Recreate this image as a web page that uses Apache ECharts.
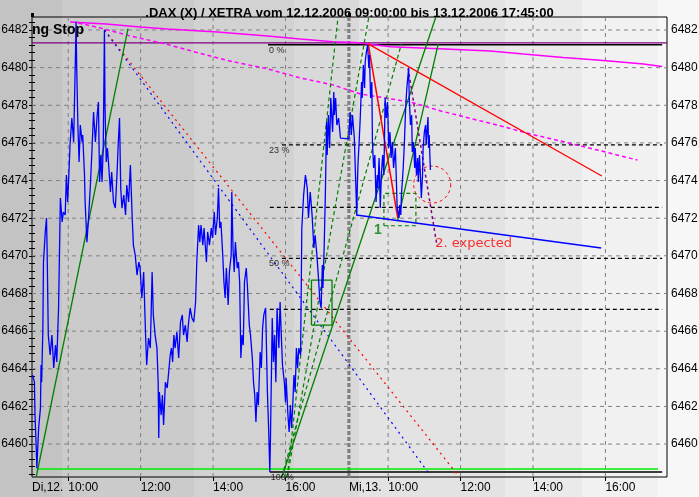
<!DOCTYPE html>
<html>
<head>
<meta charset="utf-8">
<script src="https://cdn.jsdelivr.net/npm/echarts@6/dist/echarts.min.js"></script>
<style>
  html, body { margin: 0; padding: 0; }
  #chart { width: 699px; height: 497px; }
</style>
</head>
<body>
<div id="chart"></div>
<script>
// Time axis counts trading minutes from Tue 12.12. 09:00; Wed 13.12. 09:00 sits at 530.
const timeTicks = [0, 60, 180, 300, 420, 525, 590, 710, 830, 950];
const timeTickLabels = ['Di,12.', '10:00', '12:00', '14:00', '16:00', 'Mi,13.', '10:00', '12:00', '14:00', '16:00'];
const hourGrid = [60, 180, 300, 420, 590, 710, 830, 950];
const dayBreaks = [0, 525];
const priceTicks = [6460, 6462, 6464, 6466, 6468, 6470, 6472, 6474, 6476, 6478, 6480, 6482];

// DAX price path [minute, index points]
const price = [
  [1,6463.67],[4,6463.29],[5,6461.54],[7,6459.79],[8,6458.72],[11,6460.85],[14,6461.91],[15,6464.20],[16,6463.29],[18,6466.16],
  [19,6469.67],[22,6471.27],[24,6472.01],[25,6470.42],[27,6465.79],[30,6464.73],[33,6465.79],[36,6464.04],[39,6465.26],[41,6464.36],
  [44,6467.23],[47,6473.07],[50,6471.80],[52,6472.33],[55,6472.17],[57,6474.29],[59,6472.86],[61,6474.29],[63,6475.89],[66,6477.32],
  [69,6476.05],[72,6480.67],[73,6482.44],[74,6480.14],[76,6476.95],[78,6474.99],[80,6476.95],[83,6476.05],[84,6476.42],[87,6474.29],
  [88,6472.86],[91,6470.73],[94,6472.17],[97,6473.92],[99,6475.36],[102,6477.64],[105,6476.05],[108,6477.48],[110,6478.17],[112,6473.92],
  [114,6475.36],[116,6473.92],[118,6475.73],[120,6482.00],[121,6477.86],[123,6474.99],[125,6475.73],[127,6474.83],[130,6473.39],[132,6474.45],
  [135,6472.86],[138,6472.54],[141,6474.45],[143,6476.05],[145,6477.32],[147,6473.60],[149,6472.54],[152,6473.23],[155,6472.17],[157,6473.76],
  [160,6472.86],[163,6474.83],[166,6472.01],[168,6470.57],[171,6470.04],[174,6468.98],[177,6469.67],[179,6469.35],[182,6467.76],[185,6469.14],
  [188,6465.95],[190,6464.20],[193,6465.63],[196,6465.10],[199,6469.14],[201,6466.86],[204,6465.79],[207,6465.10],[209,6463.29],[210,6460.32],
  [211,6462.76],[214,6461.54],[216,6462.60],[218,6461.01],[221,6463.29],[224,6462.98],[226,6463.67],[229,6464.73],[231,6465.10],[233,6464.36],
  [235,6465.79],[237,6465.10],[240,6465.95],[243,6464.57],[246,6466.48],[249,6466.86],[251,6465.79],[254,6466.32],[257,6465.42],[259,6466.32],
  [262,6467.23],[265,6466.70],[268,6466.48],[271,6467.55],[273,6469.67],[276,6471.64],[278,6470.73],[280,6471.64],[283,6470.57],[285,6471.48],
  [287,6470.57],[289,6469.67],[291,6471.27],[294,6470.57],[297,6471.48],[299,6470.95],[302,6472.33],[304,6471.11],[307,6472.01],[309,6473.60],
  [311,6471.48],[313,6471.80],[316,6470.04],[318,6468.61],[320,6467.76],[322,6469.35],[325,6467.39],[327,6469.14],[330,6470.04],[331,6473.39],
  [333,6470.42],[335,6469.14],[337,6470.73],[340,6469.35],[342,6469.67],[344,6468.61],[346,6464.57],[348,6465.79],[350,6465.26],[352,6468.61],
  [355,6469.35],[357,6468.29],[360,6466.32],[362,6465.79],[365,6464.57],[367,6463.29],[369,6462.60],[371,6461.17],[373,6462.76],[375,6462.07],
  [378,6464.89],[380,6464.04],[382,6466.16],[384,6466.86],[387,6467.23],[388,6465.79],[390,6462.76],[392,6460.85],[394,6458.51],[395,6460.21],
  [398,6466.70],[400,6464.36],[402,6465.79],[404,6463.29],[406,6467.23],[409,6465.10],[411,6467.55],[413,6465.79],[415,6464.20],[418,6463.29],
  [420,6462.23],[421,6463.51],[424,6461.54],[426,6460.64],[428,6462.07],[430,6460.85],[432,6462.07],[434,6463.67],[436,6462.76],[438,6465.10],
  [440,6464.04],[442,6465.10],[445,6464.73],[447,6471.48],[450,6473.23],[453,6474.29],[456,6473.60],[458,6472.01],[461,6473.39],[464,6472.17],
  [467,6470.42],[469,6471.11],[472,6470.04],[475,6468.61],[477,6467.55],[479,6467.23],[481,6469.51],[482,6468.29],[484,6470.42],[486,6473.23],
  [488,6477.11],[489,6475.36],[491,6477.48],[493,6475.73],[495,6478.39],[498,6476.58],[500,6478.71],[501,6477.48],[503,6478.39],[505,6476.95],
  [508,6477.32],[511,6476.26],[525,6476.21],[527,6477.64],[529,6476.42],[531,6477.48],[534,6476.26],[538,6472.17],[539,6473.76],[540,6474.83],
  [542,6476.05],[544,6477.48],[546,6479.24],[547,6478.39],[549,6480.14],[551,6478.92],[552,6480.30],[554,6480.83],[556,6481.20],[558,6479.98],
  [559,6480.67],[561,6478.39],[563,6479.24],[564,6476.05],[566,6474.67],[568,6475.36],[570,6472.86],[572,6474.29],[573,6473.60],[575,6475.20],
  [577,6472.54],[579,6474.45],[581,6475.36],[583,6474.29],[585,6478.39],[587,6477.32],[589,6478.17],[591,6475.73],[593,6476.58],[595,6475.20],
  [597,6476.05],[599,6474.67],[602,6475.73],[604,6473.60],[605,6472.54],[608,6472.01],[609,6472.70],[611,6472.17],[612,6473.23],[615,6474.67],
  [617,6476.05],[619,6477.86],[621,6478.92],[624,6479.98],[625,6478.39],[627,6476.95],[629,6477.48],[630,6475.52],[632,6476.05],[634,6474.67],
  [635,6475.73],[637,6474.29],[639,6475.20],[640,6473.92],[642,6475.36],[643,6474.67],[645,6473.07],[647,6474.29],[648,6475.73],[650,6476.58],
  [652,6476.95],[653,6475.89],[656,6477.38],[657,6475.73],[658,6476.42],[660,6474.56]
];

// Trailing stops
const trailingStop = [[63,6482.43],[123,6482.32],[179,6482.16],[224,6482.05],[307,6481.89],[390,6481.68],[444,6481.52],[499,6481.38],
  [536,6481.34],[594,6481.11],[665,6481.02],[759,6480.88],[814,6480.72],[880,6480.54],[947,6480.38],[1013,6480.19],[1044,6480.06]];
const trailingStopWide = [[77,6482.37],[113,6482.11],[163,6481.68],[221,6481.26],[276,6480.78],[332,6480.32],[387,6479.96],[445,6479.45],
  [499,6479.08],[544,6478.60],[627,6478.17],[677,6477.70],[715,6477.39],[771,6476.95],[826,6476.47],[881,6476.06],[937,6475.62],[1003,6475.09]];

// Fibonacci retracement of the 12.12. low / 13.12. high swing
const fibLevels = [6481.22, 6475.90, 6472.58, 6469.87, 6467.16, 6458.51];
const fibLabels = ['0 %', '23 %', '', '50 %', '', '100%'];
const fibStart = [391, 414, 394, 414, 394, 394];
const fibEnd = 1044;
const highLine = 6481.31;
const lowLine = [[8, 6458.67], [1037, 6458.67]];

// Trend lines [start, end]
const downTrendRed = [[120, 6482.00], [708, 6458.25]];
const downTrendBlue = [[120, 6482.00], [657, 6458.46]];
const upTrendDay1 = [[7, 6458.25], [159, 6482.07]];
const fanSolid = [[414, 6458.25], [669, 6482.69]];
const fanDashed = [
  [[423, 6458.25], [507, 6482.69]],
  [[423, 6458.25], [558, 6482.69]],
  [[414, 6458.25], [612, 6481.26]]
];
const upTrendDay2 = [[606, 6471.90], [673, 6481.26]];
const resistance = [[557, 6481.26], [944, 6474.24]];
const dropLine = [[557, 6481.26], [606, 6472.01]];
const support = [[537, 6472.17], [943, 6470.42]];
const secondDrop = [[623, 6479.98], [671, 6470.52]];
const boxSolid = [463, 497, 6466.32, 6468.71];
const boxDashed = [583, 636, 6471.60, 6473.32];
const expectedZone = [663, 6473.79];
const mark1 = [573, 6471.37];
const markExpected = [668, 6470.63];

const X_MIN = 0, X_MAX = 1052, Y_MIN = 6458.25, Y_MAX = 6482.69;
const FONT = "'Liberation Sans', Arial, sans-serif";

function seg(data, color, width, type, z) {
  return {
    type: 'line', data, symbol: 'none', showSymbol: false, silent: true,
    z: z || 2, lineStyle: { color, width, type: type || 'solid' }
  };
}
function box(b) {
  return [[b[0], b[2]], [b[1], b[2]], [b[1], b[3]], [b[0], b[3]], [b[0], b[2]]];
}

const series = [];
// gridlines
priceTicks.forEach(v => series.push(seg([[X_MIN, v], [X_MAX, v]], '#808080', 1, [4, 4], 1)));
hourGrid.forEach(t => series.push(seg([[t, Y_MIN], [t, Y_MAX]], '#808080', 1, [4, 4], 1)));
series.push(seg([[dayBreaks[1], Y_MIN], [dayBreaks[1], Y_MAX]], '#808080', 3.2, [4, 2], 1));

// levels
series.push(seg([[X_MIN, highLine], [X_MAX, highLine]], '#800080', 1.2));
fibLevels.forEach((v, i) => {
  const solid = i === 0 || i === fibLevels.length - 1;
  series.push(seg([[fibStart[i], v], [fibEnd, v]], '#000000', solid ? 1.5 : 1.2, solid ? 'solid' : [4, 3]));
});
series.push(seg(lowLine, '#00ee00', 1.5));

// trailing stops and day-1 trend lines
series.push(seg(trailingStop, '#ff00ff', 1.5));
series.push(seg(trailingStopWide, '#ff00ff', 1.5, [4, 3]));
series.push(seg(downTrendRed, '#ff0000', 1.2, [2, 4]));
series.push(seg(downTrendBlue, '#0000ff', 1.2, [2, 4]));

// price
series.push({
  type: 'line', data: price, symbol: 'none', showSymbol: false, silent: true,
  lineStyle: { color: '#0000ff', width: 1.3 }
});

// green fan and boxes
series.push(seg(upTrendDay1, '#008000', 1.3));
series.push(seg(fanSolid, '#008000', 1.3));
fanDashed.forEach(l => series.push(seg(l, '#008000', 1.2, [4, 3])));
series.push(seg(upTrendDay2, '#008000', 1.3));
series.push(seg(box(boxSolid), '#008000', 1.3));
series.push(seg(box(boxDashed), '#008000', 1.2, [4, 3]));

// day-2 structure
series.push(seg(resistance, '#ff0000', 1.3));
series.push(seg(dropLine, '#ff0000', 1.5));
series.push(seg(support, '#0000ff', 1.6));
series.push(seg(secondDrop, '#800080', 1.5, [3, 3]));

// expected zone
series.push({
  type: 'custom', data: [expectedZone], silent: true, z: 3,
  renderItem: (params, api) => {
    const p = api.coord([api.value(0), api.value(1)]);
    return {
      type: 'circle', shape: { cx: p[0], cy: p[1], r: 18.5 },
      style: { fill: 'none', stroke: '#ff0000', lineWidth: 1, lineDash: [3, 3] }
    };
  }
});

// text annotations
const textItems = [];
fibLevels.forEach((v, i) => {
  if (!fibLabels[i]) return;
  textItems.push({
    value: [fibStart[i] === 414 ? 391 : fibStart[i], v],
    label: { show: true, formatter: fibLabels[i], position: [1, 1], fontSize: 9, lineHeight: 9,
             color: '#000', fontFamily: FONT }
  });
});
textItems.push({
  value: mark1,
  label: { show: true, formatter: '1', position: 'inside', fontSize: 14, fontWeight: 'bold',
           color: '#008000', fontFamily: FONT }
});
textItems.push({
  value: markExpected,
  label: { show: true, formatter: '2. expected', position: 'right', distance: 0, fontSize: 13,
           color: '#ff0000', fontFamily: "'DejaVu Sans', sans-serif" }
});
series.push({ type: 'scatter', data: textItems, symbolSize: 0, silent: true, z: 4 });

// background bands
const bandEdges = [0, 62, 194, 294, 359, 505, 582, 658, 699];
const bandColors = ['#c3c3c3', '#cbcbcb', '#d2d2d2', '#d9d9d9', '#e3e3e3', '#eaeaea', '#f1f1f1', '#f7f7f7'];
const stops = [];
bandColors.forEach((c, i) => {
  stops.push({ offset: bandEdges[i] / 699, color: c });
  stops.push({ offset: bandEdges[i + 1] / 699, color: c });
});

const minorTicks = [];
for (let k = 0; k <= 60; k++) minorTicks.push(+(6458.4 + k * 0.4).toFixed(1));

const yCommon = {
  type: 'value', min: Y_MIN, max: Y_MAX, splitLine: { show: false },
  axisLine: { show: false },
  axisTick: { show: true, customValues: minorTicks, length: 3, lineStyle: { color: '#000' } },
  axisLabel: { customValues: priceTicks, color: '#000', fontSize: 12, fontFamily: FONT,
               formatter: v => String(Math.round(v)) }
};

const chart = echarts.init(document.getElementById('chart'), null, { renderer: 'canvas' });
chart.setOption({
  animation: false,
  backgroundColor: new echarts.graphic.LinearGradient(0, 0, 1, 0, stops),
  title: {
    text: '.DAX (X) / XETRA vom 12.12.2006 09:00:00 bis 13.12.2006 17:45:00',
    left: 'center', top: 2,
    textStyle: { fontSize: 13, fontWeight: 'bold', color: '#000', fontFamily: FONT }
  },
  grid: { left: 32, right: 32, top: 17, bottom: 20, show: true, borderColor: '#000', borderWidth: 1,
          backgroundColor: 'transparent', containLabel: false, outerBoundsMode: 'none' },
  xAxis: [
    {
      type: 'value', min: X_MIN, max: X_MAX, splitLine: { show: false },
      axisLine: { show: false },
      axisTick: { show: true, customValues: hourGrid, length: 4, lineStyle: { color: '#000' } },
      axisLabel: {
        customValues: timeTicks, align: 'left', margin: 5, color: '#000', fontSize: 12, fontFamily: FONT,
        formatter: v => timeTickLabels[timeTicks.indexOf(v)]
      }
    },
    {
      type: 'value', min: X_MIN, max: X_MAX, splitLine: { show: false },
      axisLine: { show: false }, axisLabel: { show: false },
      axisTick: { show: true, customValues: dayBreaks, length: 4, lineStyle: { color: '#000', width: 3 } }
    }
  ],
  yAxis: [
    Object.assign({}, yCommon, { position: 'left', axisLabel: Object.assign({}, yCommon.axisLabel, { margin: 4 }) }),
    Object.assign({}, yCommon, { position: 'right', axisLabel: Object.assign({}, yCommon.axisLabel, { margin: 4 }) })
  ],
  graphic: [{
    type: 'text', left: 32, top: 23, z: 10,
    style: { text: 'ng Stop', fontSize: 14, fontWeight: 'bold', fill: '#000', fontFamily: FONT }
  }],
  series
});
</script>
</body>
</html>
